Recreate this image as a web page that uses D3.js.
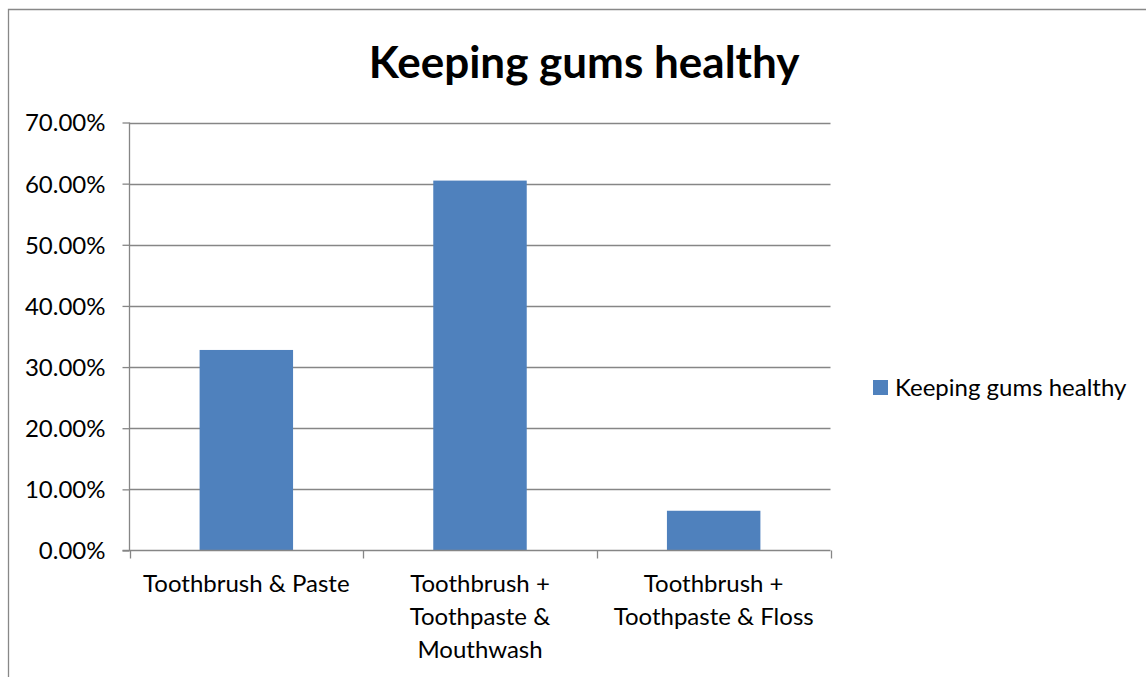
<html>
<head>
<meta charset="UTF-8">
<script src="https://cdn.jsdelivr.net/npm/d3@7"></script>
<style>
	body { margin: 0; background: #fff; }
	text { font-family: Lato, "Open Sans", sans-serif; fill: #000; }
	.grid line { stroke: #868686; stroke-width: 1.3; }
	.axis path, .axis line { stroke: #868686; stroke-width: 1.3; }
</style>
</head>
<body>
<div id="chart"></div>
<script>
var title = "Keeping gums healthy";
var seriesName = "Keeping gums healthy";
var categories = [
	["Toothbrush & Paste"],
	["Toothbrush +", "Toothpaste &", "Mouthwash"],
	["Toothbrush +", "Toothpaste & Floss"]
];
var values = [0.328, 0.605, 0.065];
var yTicks = [0, 0.1, 0.2, 0.3, 0.4, 0.5, 0.6, 0.7];

(function(d3) {
	var W = 1146, H = 677;
	var svg = d3.select("#chart").append("svg").attr("width", W).attr("height", H);

	// outer frame (only left and top visible)
	svg.append("path")
		.attr("d", "M8.5," + H + "V9.5H" + W)
		.attr("fill", "none").attr("stroke", "#888").attr("stroke-width", 1.3);

	var left = 129.5, right = 830.5, top = 122.5, bottom = 550.5;

	var x = d3.scaleBand().domain(d3.range(categories.length)).range([left, right]).paddingInner(0.6).paddingOuter(0.3);
	var xb = d3.scaleBand().domain(d3.range(categories.length)).range([left, right]);
	var y = d3.scaleLinear().domain([0, 0.7]).range([bottom, top]);

	// gridlines
	svg.append("g").attr("class", "grid")
		.selectAll("line").data(yTicks.slice(1)).enter().append("line")
		.attr("x1", left).attr("x2", right)
		.attr("y1", function(d) { return Math.round(y(d)) + 0.5; })
		.attr("y2", function(d) { return Math.round(y(d)) + 0.5; });

	// bars
	svg.selectAll("rect.bar").data(values).enter().append("rect")
		.attr("class", "bar")
		.attr("x", function(d, i) { return x(i); })
		.attr("width", x.bandwidth())
		.attr("y", function(d) { return y(d); })
		.attr("height", function(d) { return y(0) - y(d); })
		.attr("fill", "#4F81BD");

	// y axis
	var yAxis = svg.append("g").attr("class", "axis")
		.attr("transform", "translate(" + left + ",0)")
		.call(d3.axisLeft(y).tickValues(yTicks).tickSize(7).tickPadding(17)
			.tickFormat(function(d) { return (d * 100).toFixed(2) + "%"; }));
	yAxis.select(".domain").attr("d", "M0," + top + "V" + bottom);
	yAxis.selectAll("text").style("font-size", "24px").attr("dy", "0.35em");

	// x axis line and ticks at band boundaries
	var xAxis = svg.append("g").attr("class", "axis");
	xAxis.append("line").attr("x1", left - 7).attr("x2", right).attr("y1", bottom).attr("y2", bottom);
	var bounds = d3.range(categories.length + 1).map(function(i) {
		return i < categories.length ? xb(i) : right;
	});
	xAxis.selectAll("line.tick").data(bounds).enter().append("line")
		.attr("class", "tick")
		.attr("x1", function(d) { return Math.round(d) + 0.5; })
		.attr("x2", function(d) { return Math.round(d) + 0.5; })
		.attr("y1", bottom).attr("y2", bottom + 8);

	// category labels
	var labels = svg.selectAll("text.cat").data(categories).enter().append("text")
		.attr("class", "cat")
		.attr("text-anchor", "middle")
		.style("font-size", "24px")
		.attr("transform", function(d, i) { return "translate(" + (xb(i) + xb.bandwidth() / 2) + ",592)"; });
	labels.selectAll("tspan").data(function(d) { return d; }).enter().append("tspan")
		.attr("x", 0)
		.attr("y", function(d, i) { return i * 33; })
		.text(function(d) { return d; });

	// title
	svg.append("text")
		.attr("x", 584).attr("y", 78)
		.attr("text-anchor", "middle")
		.style("font-size", "44px").style("font-weight", "bold")
		.text(title);

	// legend
	var lg = svg.append("g").attr("transform", "translate(873,380)");
	lg.append("rect").attr("width", 15).attr("height", 15).attr("fill", "#4F81BD");
	lg.append("text").attr("x", 22).attr("y", 8).attr("dy", "0.35em")
		.style("font-size", "24px").text(seriesName);
})(window.d3);
</script>
</body>
</html>
